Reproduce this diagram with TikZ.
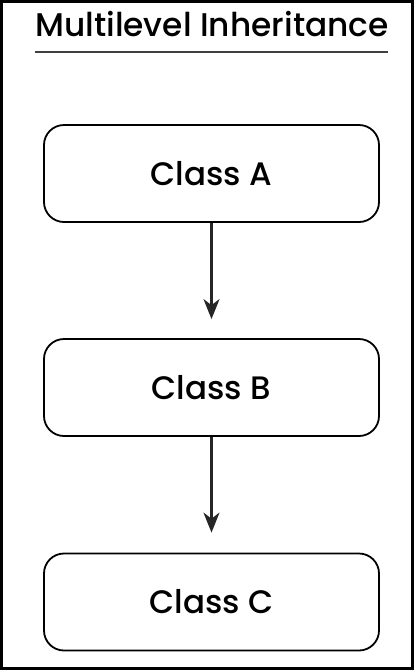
\documentclass[tikz,border=0pt]{standalone}
\usepackage{fontspec}
\setmainfont{Poppins}
\newfontfamily\medfont{Poppins Medium}
\usetikzlibrary{positioning}
\usetikzlibrary{arrows.meta,calc}

\begin{document}
\begin{tikzpicture}[%
    x=1pt, y=-1pt,
    node distance = 20pt,
    basic/.style={draw,line width=1.8pt,rounded corners=20pt,align=center},
    class/.style={basic,minimum width=335pt,minimum height=97pt,font=\medfont\fontsize{32.5}{38}\selectfont},
    link/.style={draw,line width=2.2pt,black!85,-{Stealth[length=20pt,width=16pt,inset=6pt]}}
]
        \useasboundingbox (0,0) rectangle (414,670);
        \draw[line width=3pt] (1.5,1.5) rectangle (412.5,668.5);
        \node[font=\medfont\fontsize{32.8}{38}\selectfont] (title) at (212,24) {Multilevel Inheritance};
        \draw[line width=2.6pt,black!75] (35,52) -- (388,52);

        \node[class] (a) at (211.5,173.5) {Class A};
        \node[class] (b) at (211.5,387.5) {Class B};
        \node[class] (c) at (211.5,602) {Class C};

        \path[link,shorten >=19pt] (a) -- (b);
        \path[link,shorten >=20pt] (b) -- (c);
\end{tikzpicture}
\end{document}
